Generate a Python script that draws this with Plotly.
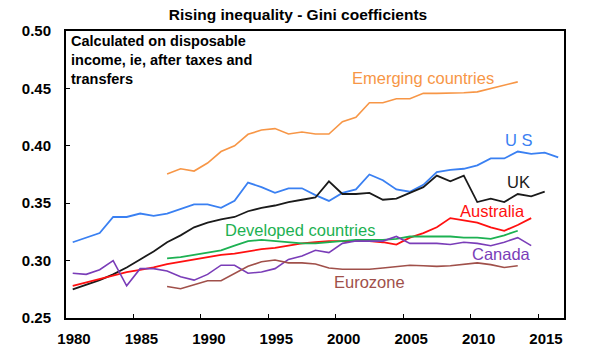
import plotly.graph_objects as go

# ---------------- data ----------------
us_years = list(range(1980, 2017))
us = [0.316, 0.320, 0.324, 0.338, 0.338, 0.341, 0.339, 0.341, 0.345, 0.349,
      0.349, 0.346, 0.352, 0.368, 0.364, 0.359, 0.363, 0.363, 0.357, 0.352,
      0.359, 0.362, 0.375, 0.370, 0.362, 0.360, 0.366, 0.377, 0.379, 0.380,
      0.383, 0.389, 0.389, 0.395, 0.393, 0.394, 0.390]

uk_years = list(range(1980, 2016))
uk = [0.275, 0.279, 0.283, 0.288, 0.294, 0.301, 0.308, 0.316, 0.322, 0.329,
      0.333, 0.336, 0.338, 0.343, 0.346, 0.348, 0.351, 0.353, 0.355, 0.369,
      0.358, 0.358, 0.359, 0.353, 0.354, 0.359, 0.364, 0.374, 0.369, 0.374,
      0.351, 0.354, 0.351, 0.358, 0.356, 0.360]

em_years = list(range(1987, 2014))
emerging = [0.3755, 0.380, 0.378, 0.385, 0.395, 0.400, 0.410, 0.4137, 0.415, 0.4103,
            0.412, 0.4103, 0.4103, 0.421, 0.4248, 0.4375, 0.4375, 0.441, 0.441, 0.4457,
            0.4457, 0.4457, 0.4462, 0.447, 0.450, 0.4529, 0.4557]

au_years = list(range(1980, 2015))
australia = [0.278, 0.281, 0.284, 0.287, 0.290, 0.292, 0.294, 0.297, 0.299, 0.301,
             0.303, 0.305, 0.306, 0.308, 0.310, 0.311, 0.313, 0.315, 0.316, 0.317,
             0.317, 0.317, 0.317, 0.316, 0.314, 0.320, 0.324, 0.329, 0.337, 0.335,
             0.333, 0.329, 0.326, 0.331, 0.337]

dev_years = list(range(1987, 2014))
developed = [0.302, 0.303, 0.305, 0.307, 0.309, 0.313, 0.317, 0.318, 0.317, 0.316,
             0.315, 0.315, 0.316, 0.317, 0.318, 0.318, 0.318, 0.319, 0.321, 0.321,
             0.321, 0.321, 0.320, 0.320, 0.319, 0.322, 0.326]

ca_years = list(range(1980, 2015))
canada = [0.289, 0.288, 0.292, 0.300, 0.278, 0.293, 0.293, 0.291, 0.286, 0.283,
          0.288, 0.296, 0.296, 0.289, 0.290, 0.293, 0.301, 0.304, 0.309, 0.307,
          0.315, 0.317, 0.317, 0.317, 0.321, 0.315, 0.315, 0.315, 0.314, 0.316,
          0.315, 0.313, 0.316, 0.320, 0.313]

ez_years = list(range(1987, 2014))
eurozone = [0.2775, 0.2755, 0.279, 0.2825, 0.2825, 0.289, 0.295, 0.299, 0.3005, 0.298,
            0.298, 0.297, 0.2935, 0.2925, 0.2925, 0.2925, 0.2935, 0.2945, 0.296, 0.2955,
            0.295, 0.2955, 0.297, 0.298, 0.2965, 0.294, 0.2955]

tick_years = [1980, 1985, 1990, 1995, 2000, 2005, 2010, 2015]
y_ticks = [0.25, 0.30, 0.35, 0.40, 0.45, 0.50]

title = "Rising inequality - Gini coefficients"
note = "Calculated on disposable<br>income, ie, after taxes and<br>transfers"

# ---------------- helpers ----------------
def mid(years):
    # annual observations plotted at mid-year on a date axis
    return [f"{y}-07-01" for y in years]

def frac(yf):
    y = int(yf)
    m = int((yf - y) * 12) + 1
    return f"{y}-{m:02d}-15"

FONT = "Arial, 'Liberation Sans', sans-serif"

series = [
    ("Emerging countries", em_years, emerging, "#F79646", 1.6),
    ("US", us_years, us, "#3A80F2", 1.8),
    ("UK", uk_years, uk, "#1A1A1A", 1.8),
    ("Australia", au_years, australia, "#FF1010", 1.8),
    ("Developed countries", dev_years, developed, "#1DB152", 1.8),
    ("Canada", ca_years, canada, "#7A3DB8", 1.6),
    ("Eurozone", ez_years, eurozone, "#A0504A", 1.6),
]

fig = go.Figure()
for name, yrs, vals, col, w in series:
    fig.add_trace(go.Scatter(x=mid(yrs), y=vals, mode="lines", name=name,
                             line=dict(color=col, width=w), showlegend=False))

labels = [
    ("Emerging countries", 2006.47, 0.4587, "#F79646"),
    ("U S", 2013.6, 0.405, "#3A80F2"),
    ("UK", 2013.5, 0.3685, "#1A1A1A"),
    ("Australia", 2011.6, 0.3433, "#FF1010"),
    ("Developed countries", 1997.4, 0.3268, "#1DB152"),
    ("Canada", 2012.26, 0.3059, "#7A3DB8"),
    ("Eurozone", 2002.5, 0.2816, "#A0504A"),
]
for txt, xf, yv, col in labels:
    fig.add_annotation(x=frac(xf), y=yv, text=txt, showarrow=False,
                       xanchor="center", yanchor="middle",
                       font=dict(family=FONT, size=16.5, color=col))

fig.add_annotation(xref="paper", yref="paper", x=0.006, y=1.0, text="<b>" + note + "</b>",
                   showarrow=False, xanchor="left", yanchor="top", align="left",
                   font=dict(family=FONT, size=14.5, color="black"))

fig.update_layout(
    width=596, height=352,
    margin=dict(l=66, r=32, t=31, b=34, autoexpand=False),
    paper_bgcolor="white", plot_bgcolor="white",
    title=dict(text="<b>" + title + "</b>", x=0.5, xanchor="center",
               y=1 - 15 / 352, yanchor="middle", yref="container",
               font=dict(family=FONT, size=15.5, color="black")),
    font=dict(family=FONT),
)

fig.update_xaxes(
    type="date",
    range=["1980-01-01", "2016-12-05"],
    tickvals=[f"{y}-01-01" for y in tick_years],
    ticktext=[f"<b>{y}</b>" for y in tick_years],
    ticks="inside", ticklen=4, tickwidth=1, tickcolor="black",
    ticklabelshift=8, ticklabelstandoff=6,
    showline=True, linecolor="black", linewidth=2, mirror=True,
    showgrid=False, zeroline=False, automargin=False,
    tickfont=dict(family=FONT, size=15, color="black"),
)
fig.update_yaxes(
    range=[0.25, 0.50],
    tickvals=y_ticks,
    ticktext=[f"<b>{v:.2f}</b>" for v in y_ticks],
    ticks="inside", ticklen=4, tickwidth=1, tickcolor="black",
    ticklabelstandoff=10,
    showline=True, linecolor="black", linewidth=2, mirror=True,
    showgrid=False, zeroline=False, automargin=False,
    tickfont=dict(family=FONT, size=15, color="black"),
)

fig.write_html("out.html")
